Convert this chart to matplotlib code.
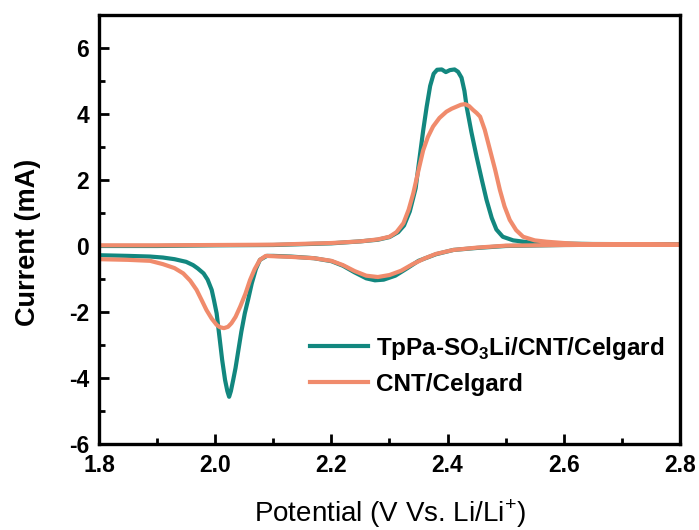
import matplotlib
matplotlib.use("Agg")
import matplotlib.pyplot as plt
from matplotlib.ticker import MultipleLocator

plt.rcParams['font.family'] = ['Liberation Sans', 'DejaVu Sans']
plt.rcParams['mathtext.fontset'] = 'custom'
plt.rcParams['mathtext.rm'] = 'Liberation Sans'
plt.rcParams['mathtext.bf'] = 'Liberation Sans:bold'
plt.rcParams['axes.unicode_minus'] = False

# TpPa-SO3Li/CNT/Celgard, anodic scan then cathodic scan
tp_fwd_v = [1.80, 1.90, 2.00, 2.10, 2.20, 2.25, 2.28, 2.30, 2.315, 2.325, 2.335, 2.345,
            2.352, 2.358, 2.364, 2.370, 2.376, 2.382, 2.390, 2.397, 2.404, 2.412, 2.418,
            2.424, 2.429, 2.433, 2.441, 2.450, 2.459, 2.467, 2.476, 2.484, 2.495, 2.513,
            2.54, 2.57, 2.65, 2.80]
tp_fwd_i = [0.00, 0.00, 0.02, 0.03, 0.08, 0.14, 0.19, 0.27, 0.42, 0.62, 1.05, 1.75,
            2.70, 3.50, 4.22, 4.85, 5.22, 5.34, 5.35, 5.27, 5.33, 5.35, 5.28,
            5.10, 4.70, 4.20, 3.45, 2.70, 2.00, 1.40, 0.85, 0.50, 0.28, 0.17,
            0.11, 0.08, 0.06, 0.05]
tp_rev_v = [2.80, 2.70, 2.60, 2.50, 2.45, 2.41, 2.38, 2.35, 2.33, 2.31, 2.29, 2.275,
            2.26, 2.24, 2.22, 2.20, 2.17, 2.13, 2.10, 2.089, 2.077, 2.070, 2.063, 2.057,
            2.051, 2.045, 2.040, 2.035, 2.031, 2.027, 2.024, 2.021, 2.017, 2.012, 2.008,
            2.0025, 1.998, 1.994, 1.987, 1.980, 1.970, 1.962, 1.950, 1.930, 1.910, 1.888,
            1.85, 1.80]
tp_rev_i = [0.05, 0.04, 0.03, 0.00, -0.06, -0.12, -0.25, -0.45, -0.68, -0.90, -1.02, -1.04,
            -0.98, -0.80, -0.60, -0.46, -0.37, -0.32, -0.30, -0.30, -0.42, -0.70, -1.13, -1.60,
            -2.04, -2.60, -3.15, -3.70, -4.06, -4.40, -4.57, -4.40, -4.06, -3.45, -2.85,
            -2.04, -1.65, -1.33, -1.02, -0.83, -0.68, -0.58, -0.48, -0.40, -0.35, -0.32,
            -0.30, -0.28]

# CNT/Celgard
cnt_fwd_v = [1.80, 1.90, 2.00, 2.10, 2.20, 2.25, 2.28, 2.30, 2.312, 2.324, 2.333, 2.341,
             2.350, 2.358, 2.366, 2.375, 2.386, 2.398, 2.407, 2.415, 2.423, 2.430, 2.437,
             2.444, 2.450, 2.456, 2.464, 2.473, 2.482, 2.490, 2.498, 2.507, 2.518, 2.530,
             2.55, 2.57, 2.60, 2.63, 2.70, 2.80]
cnt_fwd_i = [0.02, 0.02, 0.03, 0.04, 0.09, 0.14, 0.20, 0.28, 0.42, 0.69, 1.10, 1.60,
             2.30, 2.90, 3.30, 3.62, 3.88, 4.07, 4.16, 4.22, 4.28, 4.30, 4.24,
             4.12, 4.03, 3.92, 3.52, 2.91, 2.30, 1.70, 1.20, 0.79, 0.48, 0.28,
             0.17, 0.13, 0.09, 0.06, 0.05, 0.04]
cnt_rev_v = [2.80, 2.70, 2.60, 2.50, 2.45, 2.41, 2.38, 2.36, 2.34, 2.32, 2.30, 2.28,
             2.26, 2.24, 2.22, 2.20, 2.17, 2.13, 2.10, 2.087, 2.077, 2.068, 2.060, 2.052,
             2.043, 2.035, 2.028, 2.022, 2.015, 2.008, 2.0025, 1.994, 1.985, 1.977, 1.968,
             1.957, 1.945, 1.930, 1.910, 1.888, 1.85, 1.80]
cnt_rev_i = [0.04, 0.04, 0.03, 0.01, -0.05, -0.12, -0.24, -0.38, -0.55, -0.75, -0.88, -0.94,
             -0.90, -0.76, -0.58, -0.45, -0.37, -0.33, -0.31, -0.30, -0.42, -0.70, -1.03, -1.45,
             -1.84, -2.15, -2.34, -2.45, -2.49, -2.46, -2.39, -2.20, -1.94, -1.65, -1.33,
             -1.05, -0.83, -0.67, -0.55, -0.45, -0.42, -0.40]

teal = '#12877f'
salmon = '#f08b6c'

fig = plt.figure(figsize=(6.99, 5.30), dpi=100)
ax = fig.add_axes([0.1416, 0.1623, 0.8312, 0.8094])

ax.plot(tp_fwd_v + tp_rev_v, tp_fwd_i + tp_rev_i, color=teal, lw=3,
        label=r'TpPa-SO$_\mathbf{3}$Li/CNT/Celgard', solid_joinstyle='round')
ax.plot(cnt_fwd_v + cnt_rev_v, cnt_fwd_i + cnt_rev_i, color=salmon, lw=3,
        label='CNT/Celgard', solid_joinstyle='round')

ax.set_xlim(1.8, 2.8)
ax.set_ylim(-6, 7)
ax.xaxis.set_minor_locator(MultipleLocator(0.1))
ax.yaxis.set_minor_locator(MultipleLocator(1))
ax.set_xticks([1.8, 2.0, 2.2, 2.4, 2.6, 2.8])
ax.set_xticklabels(['1.8', '2.0', '2.2', '2.4', '2.6', '2.8'])
ax.set_yticks([-6, -4, -2, 0, 2, 4, 6])

for s in ax.spines.values():
    s.set_linewidth(2.4)
ax.tick_params(which='both', direction='in', top=False, right=False, width=2)
ax.tick_params(which='major', length=7.2, pad=7, labelsize=16.5)
ax.tick_params(which='minor', length=4.3)
for lab in ax.get_xticklabels() + ax.get_yticklabels():
    lab.set_fontweight('bold')

ax.set_xlabel(r'Potential (V Vs. Li/Li$^{+}$)', fontsize=20, labelpad=15)
ax.set_ylabel('Current (mA)', fontsize=19.5, fontweight='bold')
ax.yaxis.set_label_coords(-0.1, 0.47)

ax.legend(loc='upper left', bbox_to_anchor=(0.363, 0.255), frameon=False,
          prop={'size': 17.5, 'weight': 'bold'}, handlelength=2.4, handletextpad=0.3,
          labelspacing=0.45, borderpad=0, borderaxespad=0)

fig.savefig('out.png', dpi=100)
